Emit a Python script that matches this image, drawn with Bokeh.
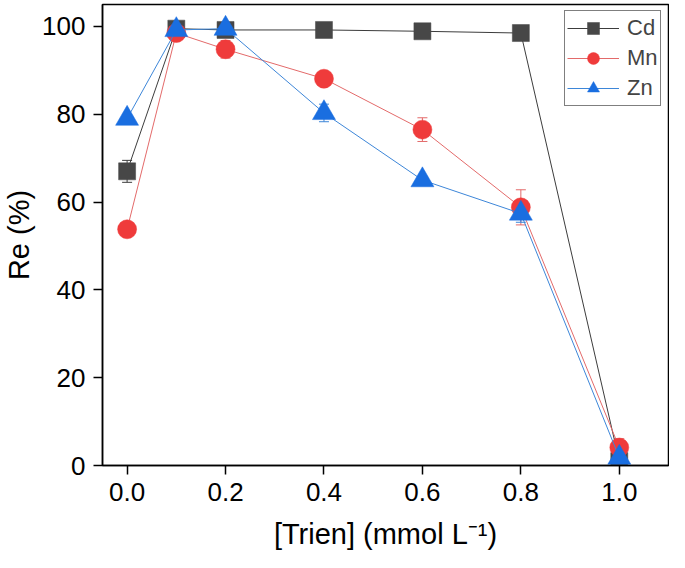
from bokeh.plotting import figure
from bokeh.models import ColumnDataSource, Whisker, FixedTicker, PrintfTickFormatter, Legend, LegendItem, Range1d
from bokeh.embed import file_html
from bokeh.resources import INLINE

# Data
trien = [0.0, 0.1, 0.2, 0.4, 0.6, 0.8, 1.0]
cd = [67.0, 99.5, 99.2, 99.2, 98.9, 98.5, 1.0]
cd_err = [2.5, 1.5, 1.0, 0.5, 0.5, 0.5, 0.5]
mn = [53.8, 98.5, 94.8, 88.1, 76.5, 58.8, 4.1]
mn_err = [0.5, 1.0, 2.0, 1.0, 2.7, 4.0, 2.0]
zn = [79.0, 99.2, 99.5, 80.3, 65.0, 57.4, 1.8]
zn_err = [0.5, 0.5, 0.5, 2.0, 0.5, 2.0, 0.5]
y_ticks = [0, 20, 40, 60, 80, 100]
x_ticks = [0.0, 0.2, 0.4, 0.6, 0.8, 1.0]

FONT = "Liberation Sans"

p = figure(width=669, height=552, output_backend="svg", toolbar_location=None,
           x_range=Range1d(-0.05, 1.1), y_range=Range1d(0, 105))
p.min_border_left = 95
p.min_border_right = 1
p.min_border_top = 4
p.min_border_bottom = 86
p.xgrid.visible = False
p.ygrid.visible = False
p.outline_line_color = "black"
p.outline_line_width = 1.5
p.background_fill_color = "white"
p.border_fill_color = "white"

for ax in (p.xaxis[0], p.yaxis[0]):
    ax.axis_line_width = 1.5
    ax.major_tick_line_width = 1.5
    ax.major_tick_out = 9
    ax.major_tick_in = 0
    ax.minor_tick_line_color = None
    ax.major_label_text_font = FONT
    ax.major_label_text_font_size = "26px"
    ax.major_label_text_color = "black"
    ax.axis_label_text_font = FONT
    ax.axis_label_text_font_size = "29px"
    ax.axis_label_text_font_style = "normal"
    ax.axis_label_text_color = "black"

p.xaxis.ticker = FixedTicker(ticks=x_ticks)
p.xaxis.formatter = PrintfTickFormatter(format="%.1f")
p.yaxis.ticker = FixedTicker(ticks=y_ticks)
p.xaxis.axis_label = "[Trien] (mmol L⁻¹)"
p.yaxis.axis_label = "Re (%)"
p.xaxis.major_label_standoff = 8
p.yaxis.major_label_standoff = 8
p.xaxis.axis_label_standoff = 14
p.yaxis.axis_label_standoff = 4

series = [
    ("Cd", cd, cd_err, "#3c3c3c", "#474747", "square", 17),
    ("Mn", mn, mn_err, "#e36a6a", "#ef3b3b", "circle", 19),
    ("Zn", zn, zn_err, "#3d86d8", "#1a6ee0", "triangle", 23),
]

items = []
for name, vals, errs, lcol, mcol, marker, size in series:
    src = ColumnDataSource(dict(
        x=trien, y=vals,
        lo=[v - e for v, e in zip(vals, errs)],
        hi=[v + e for v, e in zip(vals, errs)],
    ))
    w = Whisker(base="x", lower="lo", upper="hi", source=src,
                line_color=lcol, line_width=1)
    w.upper_head.size = 10
    w.lower_head.size = 10
    w.upper_head.line_color = lcol
    w.lower_head.line_color = lcol
    p.add_layout(w)
    r1 = p.line("x", "y", source=src, line_color=lcol, line_width=1)
    r2 = p.scatter("x", "y", source=src, marker=marker, size=size,
                   fill_color=mcol, line_color=mcol, line_width=0.5)
    items.append(LegendItem(label=name, renderers=[r1, r2]))

legend = Legend(items=items, location=(462, 359))
legend.label_text_font = FONT
legend.label_text_font_size = "22px"
legend.glyph_width = 52
legend.glyph_height = 30
legend.label_standoff = 8
legend.padding = 2
legend.spacing = 0
legend.margin = 0
legend.border_line_color = "black"
legend.border_line_width = 1
legend.background_fill_color = "white"
legend.background_fill_alpha = 1
p.add_layout(legend)

open("out.html", "w").write(file_html(p, INLINE))
